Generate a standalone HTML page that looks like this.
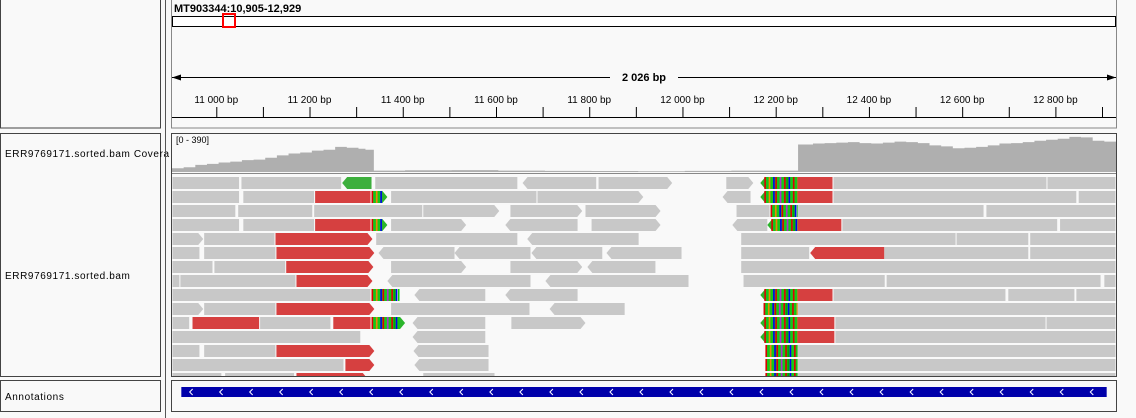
<!DOCTYPE html>
<html><head><meta charset="utf-8"><style>
html,body{margin:0;padding:0;background:#f9f9f9;}
svg{display:block;font-family:"Liberation Sans",sans-serif;}
</style></head><body>
<svg id="igv" width="1136" height="418" viewBox="0 0 1136 418" xmlns="http://www.w3.org/2000/svg">
<rect x="0" y="0" width="1136" height="418" fill="#f9f9f9"/>
<rect x="0.5" y="-1" width="160" height="129" fill="#f9f9f9" stroke="#444"/>
<rect x="0.5" y="133.5" width="160" height="243" fill="#f9f9f9" stroke="#444"/>
<rect x="0.5" y="380.5" width="160" height="31" fill="#f9f9f9" stroke="#444"/>
<text x="5" y="157" font-size="10" letter-spacing="0.6" fill="#000">ERR9769171.sorted.bam Covera</text>
<text x="5" y="279" font-size="10" letter-spacing="0.6" fill="#000">ERR9769171.sorted.bam</text>
<text x="5" y="400" font-size="10" letter-spacing="0.6" fill="#000">Annotations</text>
<line x1="165.5" y1="0" x2="165.5" y2="418" stroke="#555" stroke-width="1"/>
<rect x="171.5" y="-1" width="945" height="129" fill="#f9f9f9" stroke="#888"/>
<text x="174" y="12" font-size="11" font-weight="bold" fill="#000">MT903344:10,905-12,929</text>
<rect x="172.5" y="16.5" width="943" height="10" fill="#fff" stroke="#000"/>
<rect x="223" y="14" width="12" height="13" fill="none" stroke="#f00" stroke-width="2"/>
<g id="ruler"></g>
<rect x="171.5" y="133.5" width="945" height="243" fill="#f9f9f9" stroke="#444"/>
<clipPath id="dclip"><rect x="172" y="134" width="944" height="242"/></clipPath>
<g id="coverage" clip-path="url(#dclip)"></g>
<text x="176" y="143" font-size="9" fill="#000">[0 - 390]</text>
<line x1="172" y1="173.5" x2="1116" y2="173.5" stroke="#888"/>
<g id="reads" clip-path="url(#dclip)"></g>
<rect x="171.5" y="380.5" width="945" height="31" fill="#f9f9f9" stroke="#444"/>
<g id="annot"></g>
</svg>
<script>
const NS='http://www.w3.org/2000/svg';
const startBp=10905, endBp=12930;
const tickBps=[11000,11100,11200,11300,11400,11500,11600,11700,11800,11900,12000,12100,12200,12300,12400,12500,12600,12700,12800,12900];
const tickLabels=['11 000 bp','','11 200 bp','','11 400 bp','','11 600 bp','','11 800 bp','','12 000 bp','','12 200 bp','','12 400 bp','','12 600 bp','','12 800 bp',''];
const spanLabel='2 026 bp';
const covPos=[10905,10930,10955,10980,11005,11030,11055,11080,11105,11130,11155,11180,11205,11230,11255,11280,11305,11320,11338,11405,11505,11605,11705,11805,11905,12005,12105,12205,12248,12280,12305,12330,12355,12380,12405,12430,12455,12480,12505,12530,12555,12580,12605,12630,12655,12680,12705,12730,12755,12780,12805,12830,12855,12880,12905];
const covVal=[40,50,75,85,100,110,125,130,150,175,195,205,225,235,265,255,245,235,15,18,20,15,12,10,8,12,15,15,290,300,305,310,315,305,300,310,320,315,305,280,270,250,255,265,280,300,305,315,330,340,350,370,365,330,320];
const covMax=390;
const reads=[
[0,10906,11051,'','g'],[0,11054,11270,'','g'],[0,11270,11333,'-','G'],[0,11341,11648,'','g'],[0,11657,11815,'-','g'],[0,11820,11978,'+','g'],[0,12094,12152,'+','g'],[0,12167,12247,'-','c'],[0,12247,12324,'','r'],[0,12324,12783,'','g'],[0,12783,12931,'','g'],
[1,10906,11051,'','g'],[1,11058,11212,'','g'],[1,11212,11333,'','r'],[1,11333,11367,'+','c'],[1,11375,11689,'','g'],[1,11689,11916,'+','g'],[1,12086,12146,'-','g'],[1,12167,12247,'-','c'],[1,12247,12324,'','r'],[1,12324,12847,'','g'],[1,12850,12931,'','g'],
[2,10906,11043,'','g'],[2,11047,11208,'','g'],[2,11210,11444,'','g'],[2,11444,11607,'+','g'],[2,11631,11785,'+','g'],[2,11792,11953,'+','g'],[2,12116,12189,'','g'],[2,12189,12247,'','c'],[2,12247,12648,'','g'],[2,12652,12931,'','g'],
[3,10906,11051,'','g'],[3,11058,11212,'','g'],[3,11212,11333,'','r'],[3,11333,11367,'+','c'],[3,11375,11536,'+','g'],[3,11620,11775,'-','g'],[3,11805,11953,'+','g'],[3,12107,12182,'-','g'],[3,12182,12247,'-','c'],[3,12247,12343,'','r'],[3,12343,12806,'','g'],[3,12810,12931,'','g'],
[4,10906,10972,'+','g'],[4,10974,11127,'','g'],[4,11127,11335,'+','r'],[4,11343,11648,'','g'],[4,11667,11906,'-','g'],[4,12126,12588,'','g'],[4,12588,12744,'','g'],[4,12746,12931,'','g'],
[5,10906,10966,'','g'],[5,10974,11129,'','g'],[5,11129,11339,'+','r'],[5,11348,11511,'-','g'],[5,11511,11674,'-','g'],[5,11676,11828,'-','g'],[5,11837,11998,'-','g'],[5,12126,12274,'','g'],[5,12274,12433,'-','r'],[5,12433,12744,'','g'],[5,12746,12931,'','g'],
[6,10906,10994,'','g'],[6,10996,11150,'','g'],[6,11150,11337,'+','r'],[6,11375,11536,'+','g'],[6,11631,11785,'+','g'],[6,11796,11942,'-','g'],[6,12126,12931,'','g'],
[7,10906,10923,'','g'],[7,10923,11172,'','g'],[7,11172,11335,'+','r'],[7,11367,11674,'-','g'],[7,11706,12013,'-','g'],[7,12131,12436,'','g'],[7,12438,12899,'','g'],[7,12905,12931,'','g'],
[8,10906,11333,'','g'],[8,11333,11390,'','c'],[8,11425,11577,'-','g'],[8,11620,11775,'-','g'],[8,12167,12247,'-','c'],[8,12247,12324,'','r'],[8,12324,12695,'','g'],[8,12699,12843,'','g'],[8,12845,12931,'','g'],
[9,10906,10972,'+','g'],[9,10974,11129,'','g'],[9,11129,11339,'+','r'],[9,11375,11674,'','g'],[9,11715,11876,'-','g'],[9,12174,12247,'','c'],[9,12247,12931,'','g'],
[10,10906,10944,'','g'],[10,10949,11094,'','r'],[10,11094,11247,'','g'],[10,11251,11333,'','r'],[10,11333,11405,'+','c'],[10,11421,11577,'-','g'],[10,11633,11792,'+','g'],[10,12167,12247,'-','c'],[10,12247,12328,'','r'],[10,12328,12781,'','g'],[10,12781,12931,'','g'],
[11,10906,11311,'','g'],[11,11421,11577,'-','g'],[11,12167,12247,'-','c'],[11,12247,12328,'','r'],[11,12328,12931,'','g'],
[12,10906,10966,'','g'],[12,10974,11129,'','g'],[12,11129,11339,'+','r'],[12,11423,11584,'-','g'],[12,12178,12247,'','c'],[12,12247,12931,'','g'],
[13,10906,11275,'','g'],[13,11277,11339,'+','r'],[13,11425,11584,'-','g'],[13,12178,12247,'','c'],[13,12247,12931,'','g'],
[14,10906,11013,'','g'],[14,11019,11169,'','g'],[14,11172,11325,'+','r'],[14,11444,11599,'','g'],[14,12178,12247,'','c'],[14,12247,12931,'','g']
];
const x=bp=>172+(bp-startBp)*(944/(endBp-startBp));
const rowY=r=>177+r*14;
const covY=v=>172-(v/covMax)*37;
function mk(tag,attrs,parent){const e=document.createElementNS(NS,tag);for(const k in attrs)e.setAttribute(k,attrs[k]);parent.appendChild(e);return e;}
const ruler=document.getElementById('ruler');
tickBps.forEach((b,i)=>{
  const t=mk('line',{x1:x(b)+0.5,y1:107,x2:x(b)+0.5,y2:117,stroke:'#000'},ruler);
  
  
  if(tickLabels[i]){const l=mk('text',{x:x(b),y:103,'font-size':10,'text-anchor':'middle',fill:'#000'},ruler);l.textContent=tickLabels[i];
  
  }
});
const rl=mk('line',{x1:172,y1:117.5,x2:1116,y2:117.5,stroke:'#000'},ruler);


const sp=mk('line',{x1:172,y1:77.5,x2:1116,y2:77.5,stroke:'#000'},ruler);


mk('polygon',{points:'172,77.5 181,74.5 181,80.5',fill:'#000'},ruler);
mk('polygon',{points:'1116,77.5 1107,74.5 1107,80.5',fill:'#000'},ruler);
const cx=(x(startBp)+x(endBp))/2;
mk('rect',{x:cx-34,y:70,width:68,height:14,fill:'#f9f9f9'},ruler);
const st=mk('text',{x:cx,y:81,'font-size':11,'font-weight':'bold','text-anchor':'middle',fill:'#000'},ruler);st.textContent=spanLabel;


const cov=document.getElementById('coverage');
let d='M'+x(covPos[0])+' 172';
covPos.forEach((p,i)=>{const nx=i<covPos.length-1?x(covPos[i+1]):x(endBp);const y=covY(covVal[i]);d+=' L'+x(p)+' '+y+' L'+nx+' '+y;});
d+=' L'+x(endBp)+' 172 Z';
const cp=mk('path',{d:d,fill:'#afafaf'},cov);


const rg=document.getElementById('reads');
const stripe=['#d00','#1c1','#e80','#1c1','#00e','#d00','#1c1','#a3c','#1c1','#d00','#0a0','#00e','#1c1','#d00','#1c1','#e80'];
const fills={g:'#c8c8c8',r:'#d64040',G:'#3daf3d',c:'#2bb52b'};
reads.forEach(rd=>{
  const [row,s,e,strand,kind]=rd;const y0=rowY(row),h=12;
  let x0=x(s),x1=x(e);
  const g=mk('g',{},rg);
  
  
  let pts;
  if(strand==='+')pts=`${x0},${y0} ${x1-5},${y0} ${x1},${y0+h/2} ${x1-5},${y0+h} ${x0},${y0+h}`;
  else if(strand==='-')pts=`${x0+5},${y0} ${x1},${y0} ${x1},${y0+h} ${x0+5},${y0+h} ${x0},${y0+h/2}`;
  else pts=`${x0},${y0} ${x1-1},${y0} ${x1-1},${y0+h} ${x0},${y0+h}`;
  mk('polygon',{points:pts,fill:fills[kind]},g);
  if(kind==='c'){
    let i=0;for(let px=x0+(strand==='-'?4:0);px<x1-(strand==='+'?5:0);px+=2.2){mk('rect',{x:px,y:y0,width:1.6,height:h,fill:stripe[i%stripe.length]},g);i++;}
  }
});
const an=document.getElementById('annot');
const gb=mk('rect',{x:x(10925),y:387,width:x(12910)-x(10925),height:10,fill:'#0000aa'},an);


for(let bp=10945;bp<12910;bp+=64.4){const px=x(bp);mk('polyline',{points:`${px+2},389 ${px-1},392 ${px+2},395`,fill:'none',stroke:'#fff','stroke-width':1},an);}
</script>
</body></html>
